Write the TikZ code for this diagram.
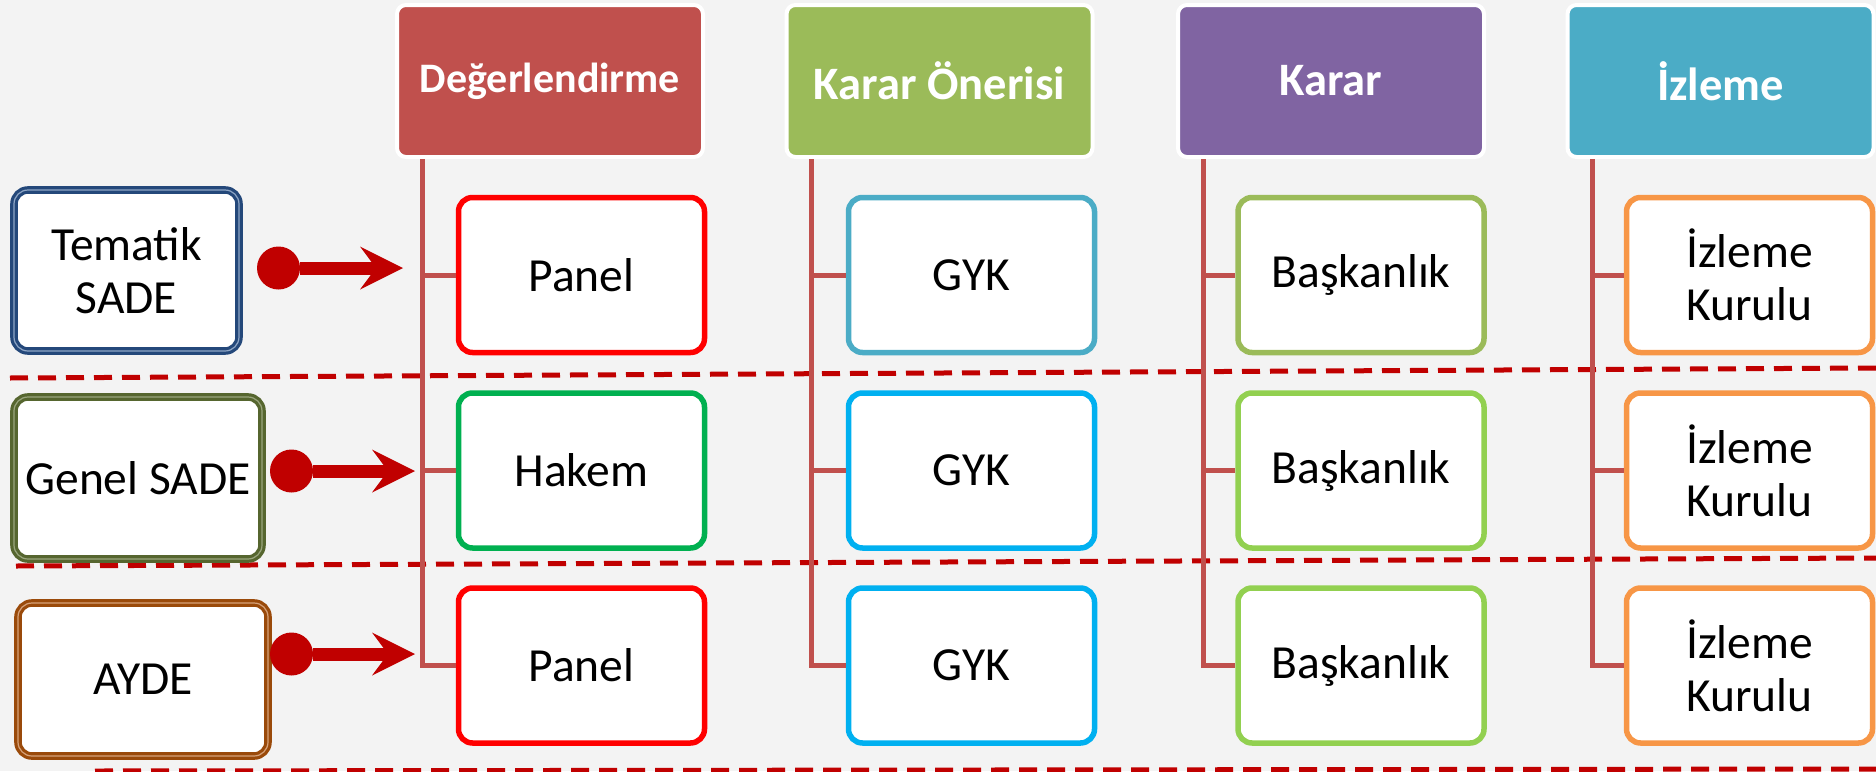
\documentclass[tikz,border=0pt]{standalone}
\usepackage{fontspec}
\setmainfont{Carlito}
\usetikzlibrary{arrows.meta}
\definecolor{bgc}{HTML}{F3F3F3}
\definecolor{hred}{HTML}{C0504D}
\definecolor{hgreen}{HTML}{9BBB59}
\definecolor{hpurple}{HTML}{8064A2}
\definecolor{hteal}{HTML}{4BACC6}
\definecolor{trunkc}{HTML}{C0504D}
\definecolor{darkred}{HTML}{C00000}
\definecolor{panelc}{HTML}{FF0000}
\definecolor{hakemc}{HTML}{00B050}
\definecolor{gyka}{HTML}{4BACC6}
\definecolor{gykb}{HTML}{00B0F0}
\definecolor{baska}{HTML}{9BBB59}
\definecolor{baskb}{HTML}{92D050}
\definecolor{izlc}{HTML}{F79646}
\definecolor{tblue}{HTML}{24487A}
\definecolor{tblueL}{HTML}{8FA6C6}
\definecolor{golive}{HTML}{56662F}
\definecolor{goliveL}{HTML}{9AA57E}
\definecolor{abrown}{HTML}{9A4A0A}
\definecolor{abrownL}{HTML}{D6A27A}
\begin{document}
\begin{tikzpicture}[x=1pt,y=-1pt,
  hdr/.style={draw=white, line width=4pt, rounded corners=9pt, minimum width=306pt, minimum height=152pt,
    text=white, font=\fontsize{46.5}{52}\selectfont\bfseries, inner sep=0pt},
  cbox/.style={draw=#1, fill=white, line width=5.5pt, rounded corners=14pt, minimum width=246pt,
    minimum height=155pt, font=\fontsize{47.5}{53}\selectfont, align=center, inner sep=0pt},
  sbox/.style={draw=#1, fill=white, line width=3.2pt, rounded corners=14pt,
    font=\fontsize{47.5}{53}\selectfont, align=center, inner sep=0pt},
  trunk/.style={draw=trunkc, line width=5pt},
  sep/.style={draw=darkred, line width=5pt, dash pattern=on 18pt off 10pt},
  bigarrow/.style={draw=darkred, line width=13pt,
    {Circle[length=43pt,width=43pt,line width=0pt]}-{Stealth[length=43pt,width=43pt,inset=16pt,line width=0pt]}}
]
\useasboundingbox (0,0) rectangle (1876,771);
\fill[bgc] (0,0) rectangle (1876,771);

% separators
\coordinate (d1a) at (10,378); \coordinate (d1b) at (1876,368);
\coordinate (d2a) at (16,566); \coordinate (d2b) at (1876,558);
\coordinate (d3a) at (95,771); \coordinate (d3b) at (1876,769);
\draw[sep] (d1a) -- (d1b);
\draw[sep] (d2a) -- (d2b);
\draw[sep] (d3a) -- (d3b);

% headers
\node[hdr, fill=hred, font=\fontsize{42}{50}\selectfont\bfseries] (h1) at (550,81) {Değerlendirme};
\node[hdr, fill=hgreen]  (h2) at (939.5,81)  {Karar Önerisi};
\node[hdr, fill=hpurple] (h3) at (1331,81)   {Karar};
\node[hdr, fill=hteal]   (h4) at (1720.5,81) {İzleme};

% column boxes
\node[cbox=panelc] (b11) at (581.5,275)   {Panel};
\node[cbox=hakemc] (b12) at (581.5,470.5) {Hakem};
\node[cbox=panelc] (b13) at (581.5,665.5) {Panel};
\node[cbox=gyka]   (b21) at (971.5,275)   {GYK};
\node[cbox=gykb]   (b22) at (971.5,470.5) {GYK};
\node[cbox=gykb]   (b23) at (971.5,665.5) {GYK};
\node[cbox=baska]  (b31) at (1361,275)    {Başkanlık};
\node[cbox=baskb]  (b32) at (1361,470.5)  {Başkanlık};
\node[cbox=baskb]  (b33) at (1361,665.5)  {Başkanlık};
\node[cbox=izlc]   (b41) at (1749.5,275)  {İzleme\\Kurulu};
\node[cbox=izlc]   (b42) at (1749.5,470.5){İzleme\\Kurulu};
\node[cbox=izlc]   (b43) at (1749.5,665.5){İzleme\\Kurulu};

% trunks
\foreach \h/\c in {h1/1,h2/2,h3/3,h4/4}{
  \coordinate (v\c) at ([xshift=27pt]\h.south west);
  \draw[trunk] (v\c) |- (b\c3.west);
  \draw[trunk] (v\c) |- (b\c2.west);
  \draw[trunk] (v\c) |- (b\c1.west);
}

% source boxes
\node[sbox=tblue, double=tblueL, double distance=1.2pt, minimum width=225pt, minimum height=161pt]
  (s1) at (126.5,270.5) {Tematik\\SADE};
\node[sbox=golive, double=goliveL, double distance=1.2pt, minimum width=248pt, minimum height=162pt]
  (s2) at (138,478) {Genel SADE};
\node[sbox=abrown, double=abrownL, double distance=1.2pt, minimum width=250pt, minimum height=153pt]
  (s3) at (143,679.5) {AYDE};

% arrows
\coordinate (a1s) at (257,268); \coordinate (a1e) at (403,268);
\coordinate (a2s) at (270,471); \coordinate (a2e) at (415,471);
\coordinate (a3s) at (270,654); \coordinate (a3e) at (415,654);
\draw[bigarrow] (a1s) -- (a1e);
\draw[bigarrow] (a2s) -- (a2e);
\draw[bigarrow] (a3s) -- (a3e);
\end{tikzpicture}
\end{document}
